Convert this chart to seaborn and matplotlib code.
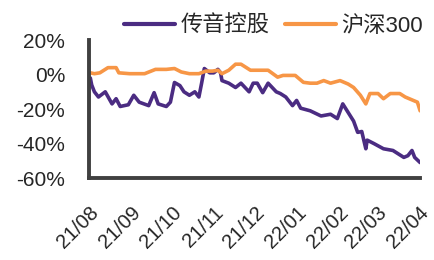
import pandas as pd
import matplotlib
matplotlib.use("Agg")
import matplotlib.pyplot as plt
import matplotlib.transforms as mtransforms
import seaborn as sns

# 传音控股 relative return (%)
tc_dates = ["2021-08-02", "2021-08-03", "2021-08-05", "2021-08-08", "2021-08-13", "2021-08-18",
            "2021-08-21", "2021-08-24", "2021-08-30", "2021-09-03", "2021-09-07", "2021-09-14",
            "2021-09-18", "2021-09-21", "2021-09-27", "2021-09-30", "2021-10-03", "2021-10-07",
            "2021-10-10", "2021-10-14", "2021-10-18", "2021-10-21", "2021-10-23", "2021-10-25",
            "2021-10-29", "2021-11-01", "2021-11-04", "2021-11-06", "2021-11-07", "2021-11-12",
            "2021-11-17", "2021-11-21", "2021-11-27", "2021-11-30", "2021-12-03", "2021-12-07",
            "2021-12-11", "2021-12-17", "2021-12-20", "2021-12-24", "2021-12-29", "2022-01-01",
            "2022-01-04", "2022-01-11", "2022-01-19", "2022-01-26", "2022-01-31", "2022-02-04",
            "2022-02-08", "2022-02-12", "2022-02-15", "2022-02-18", "2022-02-21", "2022-02-22",
            "2022-02-27", "2022-03-06", "2022-03-13", "2022-03-21", "2022-03-24", "2022-03-27",
            "2022-03-29", "2022-04-02"]
tc_vals = [-2, -6, -10, -13, -10, -17,
           -14, -18.5, -17.5, -12, -16, -18,
           -10.5, -17, -18.5, -16, -4.6, -6.4,
           -10, -12, -10, -13, -5, 3.5,
           1, 1, 3, 1, -3.5, -5,
           -7.5, -5, -10, -5, -5, -10.5,
           -5, -10, -11, -13, -18, -15,
           -19.5, -21, -24, -23, -25.5, -17,
           -22, -27, -33.5, -33, -43, -38,
           -40, -43, -44, -48, -47, -44,
           -48, -51]

# 沪深300 relative return (%)
hs_dates = ["2021-08-02", "2021-08-05", "2021-08-09", "2021-08-15", "2021-08-21", "2021-08-23",
            "2021-08-31", "2021-09-11", "2021-09-19", "2021-09-27", "2021-10-03", "2021-10-08",
            "2021-10-14", "2021-10-21", "2021-10-26", "2021-10-31", "2021-11-04", "2021-11-07",
            "2021-11-12", "2021-11-17", "2021-11-21", "2021-11-25", "2021-11-28", "2021-12-06",
            "2021-12-11", "2021-12-18", "2021-12-22", "2021-12-31", "2022-01-06", "2022-01-11",
            "2022-01-16", "2022-01-21", "2022-01-26", "2022-02-02", "2022-02-08", "2022-02-12",
            "2022-02-17", "2022-02-21", "2022-02-24", "2022-03-02", "2022-03-06", "2022-03-11",
            "2022-03-18", "2022-03-22", "2022-03-25", "2022-03-31", "2022-04-02"]
hs_vals = [1, 0.5, 1, 4, 4, 1,
           0.5, 0.5, 3, 3, 3.5, 1.5,
           0.5, 0.5, 2, 2, 2.5, 0.5,
           2.5, 6, 6, 4, 2.5, 2.5,
           2.5, -1.5, -0.5, -0.5, -4.5, -5,
           -5, -3.5, -5, -3.5, -5.5, -7.5,
           -12, -17, -11, -11, -14, -11,
           -11, -13, -14, -16, -21]

names = ["传音控股", "沪深300"]
colors = ["#4B2C82", "#F79646"]
month_ticks = ["2021-08-01", "2021-09-01", "2021-10-01", "2021-11-01", "2021-12-01",
               "2022-01-01", "2022-02-01", "2022-03-01", "2022-04-01"]
month_labels = ["21/08", "21/09", "21/10", "21/11", "21/12", "22/01", "22/02", "22/03", "22/04"]
y_ticks = [-60, -40, -20, 0, 20]

df = pd.concat([
    pd.DataFrame({"date": pd.to_datetime(tc_dates), "val": tc_vals, "name": names[0]}),
    pd.DataFrame({"date": pd.to_datetime(hs_dates), "val": hs_vals, "name": names[1]}),
])

sns.set_style("white")
plt.rcParams["font.family"] = ["Liberation Sans", "Noto Sans CJK SC", "DejaVu Sans"]

fig = plt.figure(figsize=(4.34, 2.60), dpi=100)
ax = fig.add_axes([0.205, 0.315, 0.763, 0.531])
sns.lineplot(data=df, x="date", y="val", hue="name", palette=colors, linewidth=2.6, ax=ax)

ax.set_ylim(-60, 20)
ax.set_yticks(y_ticks)
ax.set_yticklabels([f"{v}%" for v in y_ticks], fontsize=15)
ax.set_xlim(pd.Timestamp("2021-08-01"), pd.Timestamp("2022-04-02"))
ax.set_xticks(pd.to_datetime(month_ticks))
ax.set_xticklabels(month_labels, fontsize=14.5, rotation=45, ha="right", rotation_mode="anchor")
ax.set_xlabel("")
ax.set_ylabel("")

# nudge rotated date labels a bit to the right
shift = mtransforms.ScaledTranslation(4 / 72, 0, fig.dpi_scale_trans)
for lab in ax.get_xticklabels():
    lab.set_transform(lab.get_transform() + shift)

for s in ["top", "right"]:
    ax.spines[s].set_visible(False)
for s in ["left", "bottom"]:
    ax.spines[s].set_color("#404040")
    ax.spines[s].set_linewidth(2.8)
ax.tick_params(direction="in", length=5, width=2.8, color="#404040")
ax.tick_params(axis="y", pad=17)
ax.tick_params(axis="x", pad=18)

ax.legend(loc="center", bbox_to_anchor=(0.630, 0.9), bbox_transform=fig.transFigure,
          ncol=2, frameon=False, fontsize=16, handlelength=2.3, columnspacing=0.7,
          handletextpad=0.25, borderaxespad=0)
for line in ax.get_legend().get_lines():
    line.set_linewidth(3)

fig.savefig("out.png", dpi=100)
